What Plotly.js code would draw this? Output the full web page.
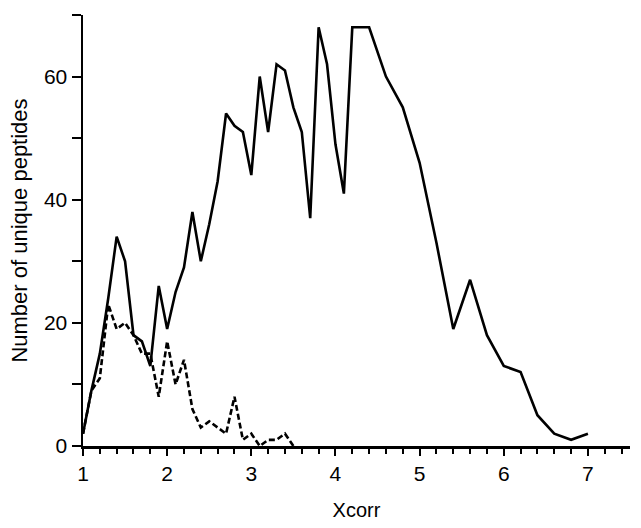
<!DOCTYPE html>
<html>
<head>
<meta charset="utf-8">
<script src="https://cdn.plot.ly/plotly-3.0.1.min.js"></script>
<style>html,body{margin:0;padding:0;background:#fff;}#chart{width:641px;height:528px;}</style>
</head>
<body>
<div id="chart"></div>
<script>
const solidX = [1.0,1.1,1.2,1.3,1.4,1.5,1.6,1.7,1.8,1.9,2.0,2.1,2.2,2.3,2.4,2.5,2.6,2.7,2.8,2.9,3.0,3.1,3.2,3.3,3.4,3.5,3.6,3.7,3.8,3.9,4.0,4.1,4.2,4.3,4.4,4.6,4.8,5.0,5.2,5.4,5.6,5.8,6.0,6.2,6.4,6.6,6.8,7.0];
const solidY = [2,9,15,24,34,30,18,17,13,26,19,25,29,38,30,36,43,54,52,51,44,60,51,62,61,55,51,37,68,62,49,41,68,68,68,60,55,46,33,19,27,18,13,12,5,2,1,2];
const dashX = [1.0,1.1,1.2,1.3,1.4,1.5,1.6,1.7,1.8,1.9,2.0,2.1,2.2,2.3,2.4,2.5,2.6,2.7,2.8,2.9,3.0,3.1,3.2,3.3,3.4,3.5];
const dashY = [2,9,11,23,19,20,18,15,15,8,17,10,14,6,3,4,3,2,8,1,2,0,1,1,2,0];
const xTicks = [1,2,3,4,5,6,7];
const yTicks = [0,20,40,60];

const font = "Liberation Sans, Arial, Helvetica, sans-serif";
const traces = [
  {x: solidX, y: solidY, mode: 'lines', line: {color: '#000', width: 2.6}, hoverinfo: 'skip'},
  {x: dashX, y: dashY, mode: 'lines', line: {color: '#000', width: 2.6, dash: '6px,3px'}, hoverinfo: 'skip'}
];
const layout = {
  width: 641, height: 528,
  margin: {l: 83, r: 11, t: 15, b: 82},
  paper_bgcolor: '#fff', plot_bgcolor: '#fff',
  showlegend: false,
  font: {family: font, color: '#000', size: 21},
  xaxis: {
    range: [1, 7.5], tickvals: xTicks, ticktext: xTicks.map(String),
    ticks: 'outside', ticklen: 7, tickwidth: 2, tickcolor: '#000',
    showline: true, linecolor: '#000', linewidth: 2.5,
    showgrid: false, zeroline: false,
    minor: {dtick: 0.2, tick0: 1, ticks: 'outside', ticklen: 5, tickwidth: 2, tickcolor: '#000', showgrid: false},
    tickfont: {size: 21, family: font},
    title: {text: 'Xcorr', font: {size: 20, family: font}, standoff: 20}
  },
  yaxis: {
    range: [0, 70], tickvals: yTicks, ticktext: yTicks.map(String),
    ticks: 'outside', ticklen: 9, tickwidth: 2, tickcolor: '#000',
    showline: true, linecolor: '#000', linewidth: 2.5,
    showgrid: false, zeroline: false,
    minor: {dtick: 10, tick0: 0, ticks: 'outside', ticklen: 9, tickwidth: 2, tickcolor: '#000', showgrid: false},
    tickfont: {size: 21, family: font},
    title: {text: 'Number of unique peptides', font: {size: 22, family: font}, standoff: 10}
  }
};
Plotly.newPlot('chart', traces, layout, {staticPlot: true, displayModeBar: false});
</script>
</body>
</html>
